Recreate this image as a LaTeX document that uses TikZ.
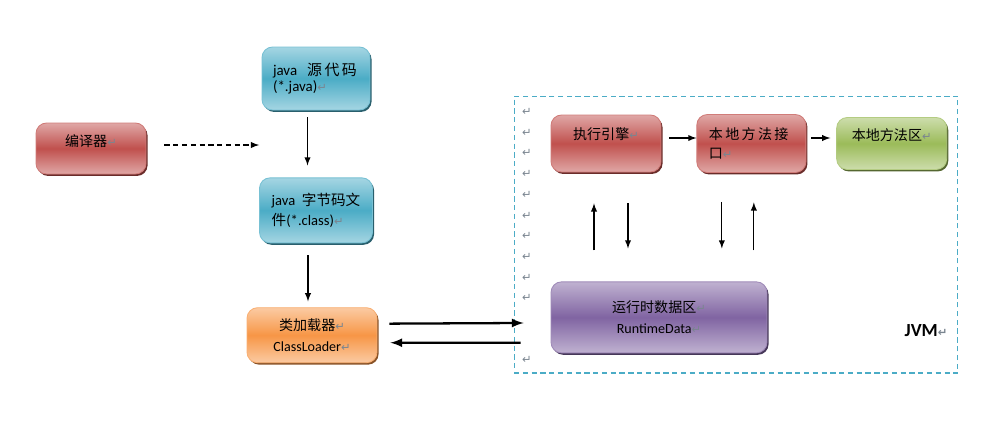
\documentclass[tikz,border=0pt]{standalone}
\usepackage{fontspec}
\setmainfont{Carlito}
\newfontfamily\cjk{Noto Sans CJK SC}
\newfontfamily\symfont{DejaVu Sans}
\usetikzlibrary{arrows}
\usetikzlibrary{positioning}
\usetikzlibrary{shadows}

\definecolor{boxred}{HTML}{C0504D}
\definecolor{boxblue}{HTML}{4BACC6}
\definecolor{boxorange}{HTML}{F79646}
\definecolor{boxgreen}{HTML}{9BBB59}
\definecolor{boxpurple}{HTML}{8064A2}
\definecolor{markgray}{HTML}{7A8590}
\definecolor{framecyan}{HTML}{4BACC6}

\newcommand{\retmark}{{\symfont\fontsize{6.5}{6.5}\selectfont\color{markgray}↵}}

\tikzset{
  box/.style={rounded corners=6pt, draw=#1!75!white, line width=0.5pt,
    top color=#1!50!white, bottom color=#1!50!white, middle color=#1,
    drop shadow={shadow xshift=0.9pt, shadow yshift=-1.1pt, fill=#1!55!black, opacity=1},
    font=\fontsize{8}{10}\selectfont, inner sep=0pt},
  lift/.style={text height=7pt, text depth=#1},
  jvmframe/.style={draw=framecyan, dash pattern=on 3pt off 2pt, line width=0.6pt,
    minimum width=8.88cm, minimum height=5.54cm, inner sep=0pt},
  parmark/.style={inner sep=0pt},
  jvmlabel/.style={font=\bfseries\fontsize{10.5}{12}\selectfont, inner sep=0pt},
  arr/.style={-latex, line width=0.6pt},
  dasharr/.style={-latex, line width=0.6pt, dash pattern=on 3pt off 2pt},
  thickarr/.style={-latex, line width=1.3pt},
}

\begin{document}
\begin{tikzpicture}[x=0.02cm, y=-0.02cm]
  \useasboundingbox (0,0) rectangle (990,424);

  % JVM area
  \node[jvmframe] (jvm) at (736,234.5) {};
  \foreach \k in {0,...,9,12}
    \node[parmark] (pm\k) at (527,{112+20.7*\k}) {\retmark};
  \node[jvmlabel] (jvmname) at (926,331) {JVM\retmark};

  % left column
  \node[box=boxred, minimum width=2.2cm, minimum height=1.02cm, lift=9.5pt] (comp) at (91,148.5) {{\cjk 编译器}\retmark};
  \node[box=boxblue, minimum width=2.16cm, minimum height=1.26cm, align=left, text width=1.72cm,
        font=\fontsize{8.5}{9}\selectfont] (src) at (316,78.5) {java\ \ {\cjk 源\,代\,码}\\(*.java)\retmark};
  \node[box=boxblue, minimum width=2.26cm, minimum height=1.3cm, align=left,
        font=\fontsize{8.3}{11}\selectfont, below=1.34cm of src] (byte) {java\ \ {\cjk 字节码文}\\{\cjk 件}(*.class)\retmark};
  \node[box=boxorange, minimum width=2.6cm, minimum height=1.1cm, align=center,
        font=\fontsize{8}{12}\selectfont, below=1.28cm of byte, xshift=-0.08cm] (loader) {{\cjk 类加载器}\retmark\\ClassLoader\retmark};

  % inside the JVM
  \node[box=boxred, minimum width=2.2cm, minimum height=1.14cm, lift=11.8pt] (exec) at (606,143.5) {{\cjk 执行引擎}\retmark};
  \node[box=boxred, minimum width=2.18cm, minimum height=1.16cm, align=left, text width=1.7cm,
        font=\fontsize{8}{10.8}\selectfont, right=0.7cm of exec] (native) {{\cjk 本\,地\,方\,法\,接}\\{\cjk 口}\retmark};
  \node[box=boxgreen, minimum width=2.2cm, minimum height=1.04cm, lift=10pt, right=0.6cm of native] (lib) {{\cjk 本地方法区}\retmark};
  \node[box=boxpurple, minimum width=4.32cm, minimum height=1.42cm, align=center,
        font=\fontsize{8}{12}\selectfont, below=2.18cm of exec.south west, anchor=north west] (data) {{\cjk 运行时数据区}\retmark\\RuntimeData\retmark};

  % connectors
  \draw[dasharr, shorten <=0.36cm] ([yshift=0.07cm]comp.east) -- ([yshift=0.07cm]comp.east -| byte.west);
  \draw[arr, shorten <=0.14cm, shorten >=0.24cm] ([xshift=-0.17cm]src.south) -- ([xshift=-0.17cm]src.south |- byte.north);
  \draw[arr, shorten <=0.24cm, shorten >=0.12cm] ([xshift=-0.16cm]byte.south) -- ([xshift=-0.16cm]byte.south |- loader.north);

  \draw[thickarr, shorten <=0.24cm, shorten >=0.54cm] ([yshift=0.23cm]loader.east) -- ([yshift=-0.11cm]data.west);
  \draw[thickarr, shorten <=0.6cm, shorten >=0.26cm] ([yshift=-0.51cm]data.west) -- ([yshift=-0.15cm]loader.east);

  \draw[arr, shorten <=0.16cm] ([yshift=0.11cm]exec.east) -- ([yshift=0.11cm]exec.east -| native.west);
  \draw[arr, shorten <=0.1cm, shorten >=0.12cm] ([yshift=0.11cm]native.east) -- ([yshift=0.11cm]native.east -| lib.west);

  \draw[arr, shorten <=0.62cm, shorten >=0.62cm] ([xshift=-0.24cm]exec.south |- data.north) -- ([xshift=-0.24cm]exec.south);
  \draw[arr, shorten <=0.62cm, shorten >=0.66cm] ([xshift=0.44cm]exec.south) -- ([xshift=0.44cm]exec.south |- data.north);
  \draw[arr, shorten <=0.58cm, shorten >=0.66cm] ([xshift=-0.59cm]native.south) -- ([xshift=-0.59cm]native.south |- data.north);
  \draw[arr, shorten <=0.62cm, shorten >=0.59cm] ([xshift=0.05cm]native.south |- data.north) -- ([xshift=0.05cm]native.south);
\end{tikzpicture}
\end{document}
